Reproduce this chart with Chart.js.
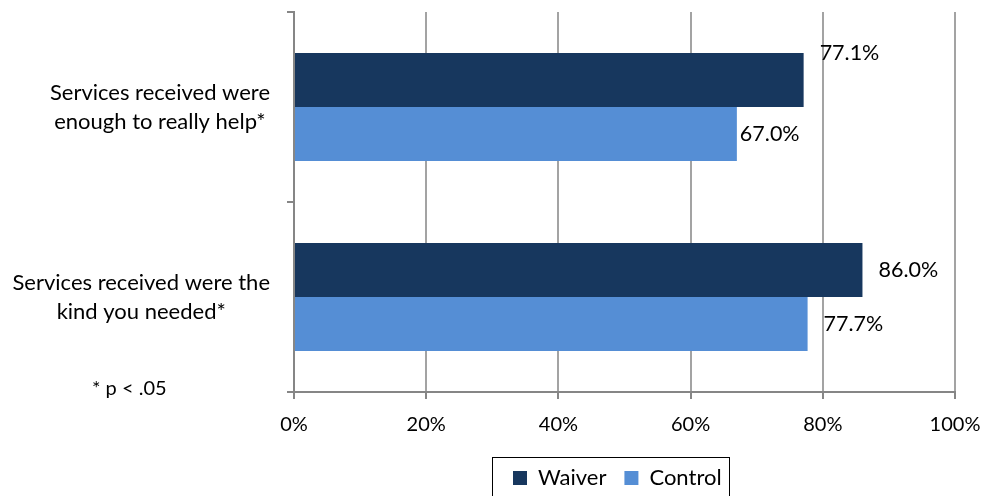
<!DOCTYPE html>
<html>
<head>
<meta charset="utf-8">
<script src="https://cdn.jsdelivr.net/npm/chart.js@4/dist/chart.umd.min.js"></script>
<style>
  html, body { margin: 0; padding: 0; background: #fff; }
  #wrap { width: 984px; height: 496px; position: relative; overflow: hidden; }
</style>
</head>
<body>
<div id="wrap"><canvas id="c" width="984" height="496"></canvas></div>
<script>
// Survey items (each label split onto two lines)
const categories = [
  ['Services received were', 'enough to really help*'],
  ['Services received were the', 'kind you needed*']
];
const seriesNames = ['Waiver', 'Control'];
const waiverValues = [77.1, 86.0];
const controlValues = [67.0, 77.7];
const xTickValues = [0, 20, 40, 60, 80, 100];
const footnote = '* p < .05';

const FONT = 'Lato, "Open Sans", sans-serif';
const AXIS_GRAY = '#868686';
const GRID_GRAY = '#a3a3a3';

// Value labels drawn just past the end of each bar
const barLabels = {
  id: 'barLabels',
  afterDatasetsDraw(chart, args, opts) {
    const ctx = chart.ctx;
    ctx.save();
    ctx.font = opts.font;
    ctx.fillStyle = opts.color;
    ctx.textAlign = 'left';
    ctx.textBaseline = 'middle';
    chart.data.datasets.forEach((ds, di) => {
      chart.getDatasetMeta(di).data.forEach((bar, i) => {
        const n = opts.nudge[di + '-' + i] || { dx: 0, dy: 0 };
        ctx.fillText(ds.data[i].toFixed(1) + '%', bar.x + opts.gap + n.dx, bar.y + n.dy);
      });
    });
    ctx.restore();
  }
};

// Category labels: block right-aligned to the axis, each line centred in the block
const categoryLabels = {
  id: 'categoryLabels',
  afterDraw(chart, args, opts) {
    const ctx = chart.ctx;
    const yScale = chart.scales.y;
    ctx.save();
    ctx.font = opts.font;
    ctx.fillStyle = opts.color;
    ctx.textAlign = 'center';
    ctx.textBaseline = 'middle';
    chart.data.labels.forEach((lines, i) => {
      const cy = yScale.getPixelForValue(i);
      const maxW = Math.max(...lines.map(l => ctx.measureText(l).width));
      const cx = opts.right - maxW / 2;
      lines.forEach((line, j) => {
        ctx.fillText(line, cx, cy + (j - (lines.length - 1) / 2) * opts.lineHeight);
      });
    });
    // significance note
    ctx.font = opts.noteFont;
    ctx.textAlign = 'left';
    ctx.fillText(footnote, opts.noteX, opts.noteY);
    ctx.restore();
  }
};

// Place the legend and frame it with a thin box
const legendFrame = {
  id: 'legendFrame',
  afterLayout(chart, args, opts) {
    const lg = chart.legend;
    const w = lg.width, h = lg.height;
    lg.left = opts.left; lg.right = opts.left + w;
    lg.top = opts.top; lg.bottom = opts.top + h;
  },
  afterDraw(chart, args, opts) {
    const lg = chart.legend;
    const boxes = lg.legendHitBoxes;
    if (!boxes || !boxes.length) return;
    const first = boxes[0], last = boxes[boxes.length - 1];
    const x1 = first.left - opts.padLeft;
    const x2 = last.left + last.width + opts.padRight;
    const ctx = chart.ctx;
    ctx.save();
    ctx.strokeStyle = '#000';
    ctx.lineWidth = 1;
    ctx.strokeRect(Math.round(x1) + 0.5, opts.frameTop + 0.5, Math.round(x2 - x1), 60);
    ctx.restore();
  }
};

new Chart(document.getElementById('c'), {
  type: 'bar',
  data: {
    labels: categories,
    datasets: [
      { label: seriesNames[0], data: waiverValues, backgroundColor: '#17375E', borderWidth: 0 },
      { label: seriesNames[1], data: controlValues, backgroundColor: '#558ED5', borderWidth: 0 }
    ]
  },
  options: {
    indexAxis: 'y',
    responsive: false,
    animation: false,
    devicePixelRatio: 1,
    categoryPercentage: 0.568,
    barPercentage: 1,
    layout: { padding: { top: 12, right: 29, bottom: 13, left: 0 } },
    scales: {
      x: {
        min: 0,
        max: 100,
        afterBuildTicks(scale) { scale.ticks = xTickValues.map(v => ({ value: v })); },
        afterFit(scale) {
          scale.height = 41;
          scale.paddingLeft = 0;
          scale.paddingRight = 0;
        },
        ticks: {
          callback: v => v + '%',
          color: '#000',
          font: { family: FONT, size: 20 },
          padding: 14,
          maxRotation: 0
        },
        grid: { color: GRID_GRAY, lineWidth: 2, tickLength: 7, drawTicks: true, tickColor: AXIS_GRAY },
        border: { display: true, color: AXIS_GRAY, width: 2 }
      },
      y: {
        type: 'category',
        afterFit(scale) { scale.width = 294; },
        ticks: { display: false },
        grid: { drawOnChartArea: false, drawTicks: true, tickLength: 7, offset: true, color: AXIS_GRAY, lineWidth: 2 },
        border: { display: true, color: AXIS_GRAY, width: 2 }
      }
    },
    plugins: {
      legend: {
        position: 'bottom',
        align: 'start',
        labels: {
          boxWidth: 14,
          boxHeight: 14,
          padding: 18,
          color: '#000',
          font: { family: FONT, size: 22 }
        }
      },
      tooltip: { enabled: false },
      barLabels: {
        font: '21.5px ' + FONT,
        color: '#000',
        gap: 16,
        nudge: { '0-0': { dx: 0, dy: -27 }, '1-0': { dx: -13, dy: 0 } }
      },
      categoryLabels: {
        font: '22px ' + FONT,
        noteFont: '20px ' + FONT,
        color: '#000',
        right: 270,
        lineHeight: 29,
        noteX: 92,
        noteY: 389
      },
      legendFrame: { left: 495, top: 449, frameTop: 457, padLeft: 21, padRight: 7 }
    }
  },
  plugins: [barLabels, categoryLabels, legendFrame]
});
</script>
</body>
</html>
